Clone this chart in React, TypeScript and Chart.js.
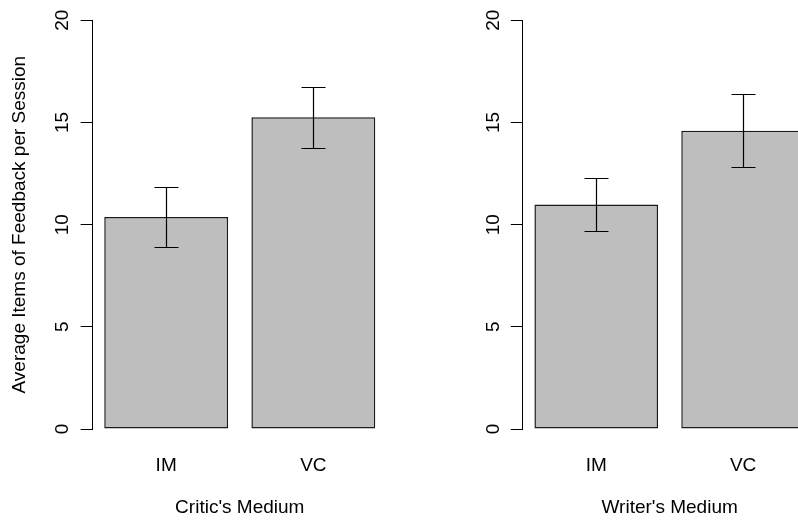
import React, { useEffect, useRef } from 'react';
import { Chart, registerables } from 'chart.js';

Chart.register(...registerables);

const categories = ['IM', 'VC'];
const criticMeans = [10.38, 15.25];
const criticErrors = [1.45, 1.5];
const writerMeans = [10.99, 14.6];
const writerErrors = [1.28, 1.78];
const yTicks = [0, 5, 10, 15, 20];
const yTitle = 'Average Items of Feedback per Session';
const criticTitle = "Critic's Medium";
const writerTitle = "Writer's Medium";

const FONT_FAMILY = "'Liberation Sans', Arial, Helvetica, sans-serif";
const font = { family: FONT_FAMILY, size: 19, lineHeight: 1.2 };

const errorBarPlugin = {
  id: 'errorBars',
  afterDatasetsDraw(chart: any, _args: any, opts: any) {
    const { ctx } = chart;
    const y = chart.scales.y;
    const meta = chart.getDatasetMeta(0);
    ctx.save();
    ctx.strokeStyle = '#000';
    ctx.lineWidth = 1.2;
    meta.data.forEach((bar: any, i: number) => {
      const m = opts.means[i];
      const e = opts.errors[i];
      const yTop = Math.round(y.getPixelForValue(m + e)) + 0.5;
      const yBot = Math.round(y.getPixelForValue(m - e)) + 0.5;
      const x = Math.round(bar.x) + 0.5;
      ctx.beginPath();
      ctx.moveTo(x, yTop);
      ctx.lineTo(x, yBot);
      ctx.moveTo(x - 12, yTop);
      ctx.lineTo(x + 12, yTop);
      ctx.moveTo(x - 12, yBot);
      ctx.lineTo(x + 12, yBot);
      ctx.stroke();
    });
    ctx.restore();
  },
};

const rotatedTicksPlugin = {
  id: 'rotatedTicks',
  afterDraw(chart: any) {
    const { ctx } = chart;
    const y = chart.scales.y;
    const xPos = y.right - 29.5;
    ctx.save();
    ctx.fillStyle = '#000';
    ctx.font = `19px ${FONT_FAMILY}`;
    ctx.textAlign = 'center';
    ctx.textBaseline = 'middle';
    y.ticks.forEach((t: any) => {
      const py = y.getPixelForValue(t.value);
      ctx.save();
      ctx.translate(xPos, py);
      ctx.rotate(-Math.PI / 2);
      ctx.fillText(String(t.value), 0, 0);
      ctx.restore();
    });
    ctx.restore();
  },
};

function makeChart(
  canvas: HTMLCanvasElement,
  means: number[],
  errors: number[],
  xTitle: string,
  yTitleText: string | null,
  axisWidth: number,
  padRight: number
) {
  return new Chart(canvas, {
    type: 'bar',
    data: {
      labels: categories,
      datasets: [
        {
          data: means,
          backgroundColor: '#bebebe',
          borderColor: '#1a1a1a',
          borderWidth: 1.5,
          borderSkipped: false,
          barPercentage: 0.8418,
          categoryPercentage: 1,
        },
      ],
    },
    options: {
      responsive: false,
      animation: false,
      devicePixelRatio: 1,
      layout: { padding: { top: 20.3, right: padRight, left: 0, bottom: 0 } },
      plugins: {
        legend: { display: false },
        tooltip: { enabled: false },
        errorBars: { means, errors },
      } as any,
      scales: {
        x: {
          type: 'category',
          offset: true,
          grid: { display: false, drawTicks: false },
          border: { display: false },
          ticks: { color: '#000', font, padding: 25, maxRotation: 0, minRotation: 0 },
          title: { display: true, text: xTitle, color: '#000', font, padding: { top: 0, bottom: 3.6 } },
          afterFit: (s: any) => {
            s.height = 94;
          },
        },
        y: {
          min: 0,
          max: 20,
          afterBuildTicks: (s: any) => {
            s.ticks = yTicks.map((v) => ({ value: v }));
          },
          ticks: { display: false },
          grid: { display: true, drawOnChartArea: false, drawTicks: true, tickLength: 12, color: '#000', lineWidth: 1 },
          border: { display: true, color: '#000', width: 1 },
          title: {
            display: !!yTitleText,
            text: yTitleText || '',
            color: '#000',
            font,
            padding: { top: 8.8, bottom: 0 },
          },
          afterFit: (s: any) => {
            s.width = axisWidth;
          },
        },
      },
    } as any,
    plugins: [errorBarPlugin, rotatedTicksPlugin],
  });
}

export default function App() {
  const leftRef = useRef<HTMLCanvasElement>(null);
  const rightRef = useRef<HTMLCanvasElement>(null);

  useEffect(() => {
    const left = makeChart(leftRef.current!, criticMeans, criticErrors, criticTitle, yTitle, 92.6, 12.1);
    const right = makeChart(rightRef.current!, writerMeans, writerErrors, writerTitle, null, 123.8, 12.5);
    return () => {
      left.destroy();
      right.destroy();
    };
  }, []);

  return (
    <div
      style={{
        position: 'absolute',
        left: 0,
        top: 0,
        width: 798,
        height: 523,
        overflow: 'hidden',
        background: '#fff',
      }}
    >
      <div style={{ position: 'absolute', left: 0, top: 0, width: 399, height: 523 }}>
        <canvas ref={leftRef} width={399} height={523} style={{ display: 'block' }} />
      </div>
      <div style={{ position: 'absolute', left: 399, top: 0, width: 430, height: 523 }}>
        <canvas ref={rightRef} width={430} height={523} style={{ display: 'block' }} />
      </div>
    </div>
  );
}
